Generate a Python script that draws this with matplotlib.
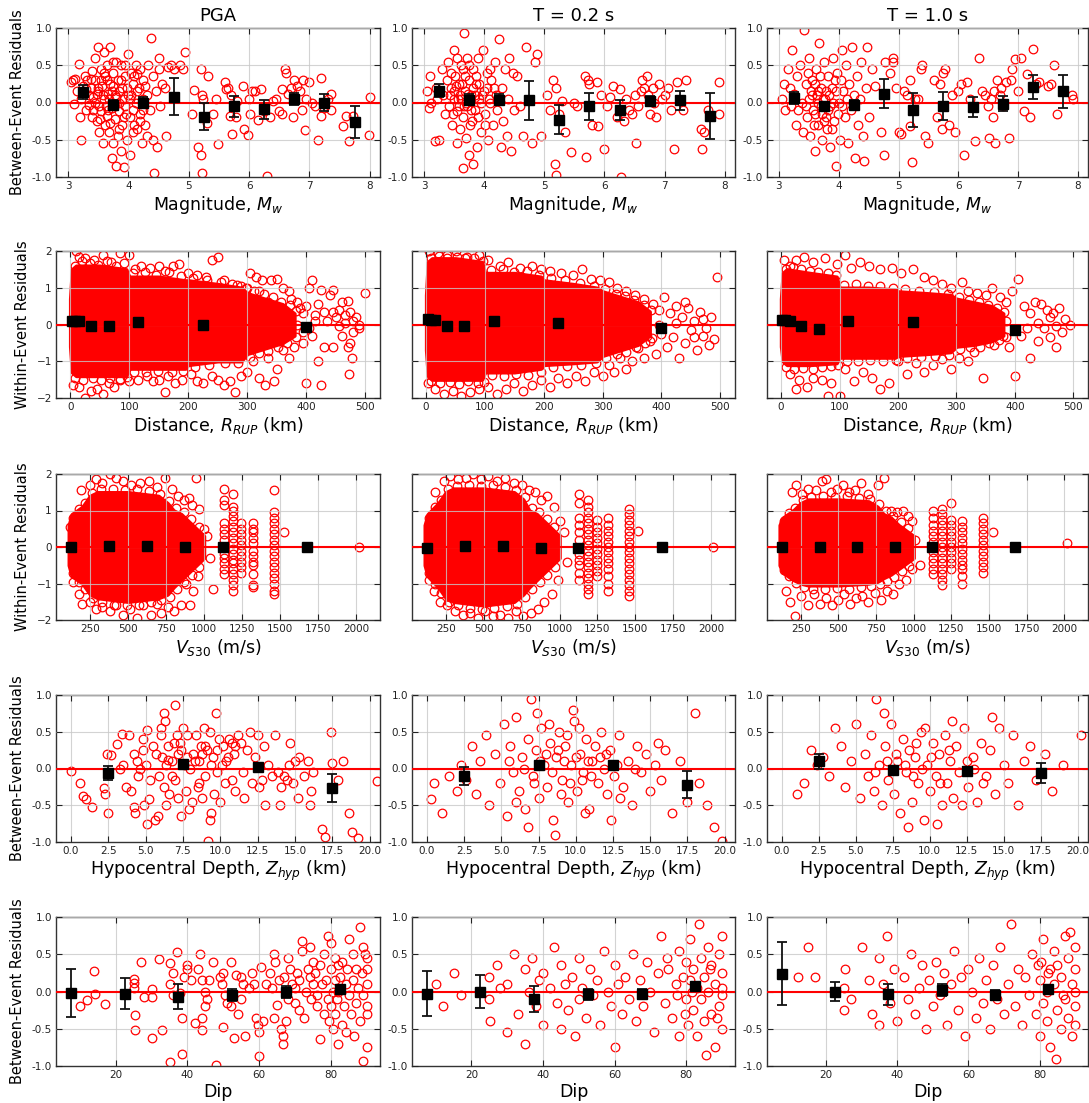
import numpy as np
import matplotlib
matplotlib.use('Agg')
import matplotlib.pyplot as plt

# ---------------- data ----------------
periods = ["PGA", "T = 0.2 s", "T = 1.0 s"]

# Row 1: between-event residuals vs magnitude
mag_pga = [(3.05,0.28),(3.08,0.3),(3.1,-0.02),(3.12,0.32),(3.15,0.15),(3.18,0.52),(3.2,-0.19),(3.22,0.05),(3.22,-0.51),(3.25,0.22),
 (3.28,0.35),(3.3,-0.1),(3.32,0.3),(3.35,0.1),(3.35,-0.03),(3.38,0.2),(3.4,-0.2),(3.42,0.08),(3.45,0.6),(3.45,0.3),(3.48,-0.25),
 (3.5,0.75),(3.5,0.15),(3.52,-0.05),(3.52,-0.4),(3.55,0.45),(3.55,-0.12),(3.57,0.22),(3.58,-0.55),(3.6,0.68),(3.6,0.05),(3.62,0.35),
 (3.62,-0.3),(3.65,0.5),(3.65,-0.18),(3.67,0.12),(3.68,-0.4),(3.7,0.75),(3.7,0.25),(3.72,-0.08),(3.72,-0.75),(3.74,0.4),(3.75,-0.55),
 (3.77,0.1),(3.78,-0.22),(3.8,0.55),(3.8,-0.85),(3.82,0.3),(3.82,-0.45),(3.85,0.0),(3.85,-0.12),(3.87,-0.65),(3.88,0.5),(3.9,0.2),
 (3.9,-0.3),(3.92,-0.87),(3.95,0.35),(3.95,-0.05),(3.98,-0.5),(4.0,0.65),(4.0,0.1),(4.02,-0.2),(4.03,-0.7),(4.05,0.4),(4.07,-0.1),
 (4.08,0.25),(4.1,-0.3),(4.12,0.5),(4.13,0.0),(4.15,-0.35),(4.18,0.2),(4.2,-0.15),(4.2,0.45),(4.22,-0.55),(4.25,0.3),(4.27,-0.3),
 (4.3,0.1),(4.3,-0.45),(4.32,0.5),(4.35,-0.1),(4.38,0.87),(4.4,0.35),(4.4,-0.5),(4.42,-0.95),(4.45,0.15),(4.47,-0.6),(4.5,0.6),
 (4.5,0.45),(4.52,-0.05),(4.55,0.25),(4.6,0.2),(4.62,-0.45),(3.45,0.0),(3.5,0.2),(3.58,0.1),(3.63,-0.05),(3.68,0.05),(3.72,0.15),
 (3.78,-0.02),(3.85,0.15),(3.92,0.05),(3.96,-0.15),(4.05,0.1),(4.1,0.35),(3.55,0.3),(3.65,0.3),(3.75,0.55),(3.4,0.42),(3.3,0.18),
 (3.95,0.5),(4.15,0.38),(4.25,-0.1),(3.48,0.12),(3.53,-0.22),(3.6,0.4),(3.66,-0.1),(3.7,-0.28),(3.74,0.22),(3.8,0.08),(3.84,-0.35),
 (3.88,0.3),(3.93,-0.2),(3.98,0.2),(4.03,0.05),(4.08,-0.4),(4.14,0.15),(4.19,-0.25),(4.24,0.05),(4.28,0.22),(3.42,-0.1),(3.38,0.32),
 (4.65,0.48),(4.7,0.5),(4.75,0.45),(4.85,0.5),(4.9,0.45),(4.93,0.68),(5.05,-0.15),(5.08,0.17),(5.15,-0.6),(5.2,-0.7),(5.22,-0.95),
 (5.2,0.45),(5.22,0.1),(5.23,0.05),(5.3,-0.28),(5.32,0.35),(5.4,-0.15),(5.45,0.05),(5.48,-0.56),(5.6,0.28),(5.62,0.18),(5.65,0.2),
 (5.68,-0.18),(5.7,0.1),(5.72,-0.42),(5.78,-0.2),(5.8,0.02),(5.9,0.22),(5.92,-0.36),(5.98,-0.43),(6.0,0.05),(6.02,-0.15),(6.05,0.15),
 (6.1,0.15),(6.15,-0.23),(6.2,0.18),(6.25,-0.12),(6.3,-0.98),(6.35,-0.2),(6.4,0.02),(6.45,0.05),(6.5,-0.12),(6.55,-0.15),(6.55,0.18),
 (6.6,0.45),(6.62,0.4),(6.65,0.12),(6.7,0.2),(6.72,-0.2),(6.75,0.3),(6.8,0.22),(6.85,0.15),(6.88,-0.1),(6.9,0.3),(6.92,-0.37),
 (6.95,0.05),(7.0,0.28),(7.05,0.0),(7.1,-0.05),(7.15,-0.5),(7.2,0.33),(7.2,-0.18),(7.25,-0.08),(7.3,0.05),(7.35,0.12),(7.35,-0.1),
 (7.55,-0.32),(7.6,-0.18),(7.65,-0.52),(7.72,-0.18),(7.98,-0.43),(8.0,0.07)]
mag_t02 = [(3.05,0.15),(3.08,-0.08),(3.1,0.35),(3.12,0.0),(3.18,-0.52),(3.2,0.2),(3.22,0.05),(3.25,-0.5),(3.3,0.45),(3.32,0.1),
 (3.35,-0.15),(3.38,0.3),(3.4,0.55),(3.42,-0.05),(3.45,0.2),(3.47,-0.3),(3.5,0.7),(3.5,0.05),(3.52,0.35),(3.55,-0.12),(3.55,-0.55),
 (3.58,0.25),(3.6,-0.35),(3.62,0.5),(3.62,0.05),(3.65,-0.2),(3.65,-0.88),(3.67,0.93),(3.68,0.15),(3.7,-0.48),(3.72,0.6),(3.72,-0.05),
 (3.75,0.3),(3.75,-0.7),(3.78,0.1),(3.8,-0.25),(3.82,0.45),(3.82,-0.82),(3.85,-0.1),(3.87,0.25),(3.88,-0.6),(3.9,0.6),(3.92,0.05),
 (3.95,-0.4),(3.98,0.7),(4.0,0.15),(4.02,-0.15),(4.05,0.4),(4.07,-0.5),(4.1,0.0),(4.12,0.3),(4.15,-0.3),(4.18,0.55),(4.2,0.1),
 (4.22,-0.1),(4.25,0.85),(4.28,-0.6),(4.3,0.2),(4.32,-0.25),(4.35,0.45),(4.38,-0.45),(4.4,0.05),(4.42,0.6),(4.45,-0.65),(4.48,0.4),
 (4.5,-0.1),(4.55,0.35),(4.6,-0.05),(3.5,0.15),(3.58,-0.05),(3.6,0.1),(3.68,0.35),(3.7,0.0),(3.78,-0.1),(3.85,0.1),(3.92,0.25),
 (3.95,0.0),(4.05,0.2),(3.45,0.4),(3.65,0.45),(3.75,0.5),(3.55,0.6),(4.1,0.45),(3.48,-0.15),(3.53,0.22),(3.57,0.05),(3.63,0.25),
 (3.66,-0.05),(3.73,0.12),(3.77,-0.3),(3.81,0.2),(3.86,0.35),(3.9,-0.2),(3.97,0.1),(4.01,-0.3),(4.08,0.05),(4.16,0.2),(3.43,0.1),
 (4.7,0.75),(4.85,0.55),(4.88,0.65),(4.8,-0.55),(4.65,-0.45),(4.95,-0.45),(5.05,0.1),(5.1,-0.1),(5.15,0.3),(5.18,-0.82),(5.2,0.2),
 (5.2,-0.97),(5.25,-0.15),(5.3,0.02),(5.35,-0.4),(5.45,-0.67),(5.5,0.0),(5.55,-0.05),(5.7,-0.73),(5.72,0.3),(5.75,0.25),(5.68,0.35),
 (5.8,-0.3),(5.9,-0.32),(5.88,0.27),(5.95,0.1),(6.0,-0.62),(6.05,-0.05),(6.1,0.08),(6.15,0.22),(6.2,-0.2),(6.25,0.18),(6.28,-1.0),
 (6.32,-0.25),(6.35,0.05),(6.4,-0.1),(6.45,-0.15),(6.5,0.1),(6.52,-0.55),(6.55,-0.05),(6.6,0.15),(6.62,0.3),(6.65,0.2),(6.7,0.35),
 (6.72,0.1),(6.75,-0.15),(6.8,0.2),(6.82,0.0),(6.85,-0.2),(6.9,0.25),(6.95,0.05),(7.0,0.1),(7.05,0.2),(7.1,-0.1),(7.15,-0.62),
 (7.2,0.28),(7.25,0.02),(7.3,-0.1),(7.35,0.3),(7.6,-0.35),(7.62,-0.62),(7.65,-0.4),(7.72,-0.1),(7.9,0.28),(7.9,-0.15)]
mag_t10 = [(3.05,0.05),(3.08,0.25),(3.1,-0.1),(3.15,0.45),(3.18,0.2),(3.2,-0.05),(3.22,0.7),(3.25,0.12),(3.28,-0.3),(3.3,0.35),
 (3.32,-0.1),(3.35,0.5),(3.38,0.0),(3.4,-0.4),(3.42,0.97),(3.45,0.25),(3.47,-0.2),(3.5,0.6),(3.5,0.05),(3.52,-0.45),(3.55,0.3),
 (3.57,-0.1),(3.6,-0.65),(3.62,0.45),(3.63,0.1),(3.65,-0.3),(3.67,0.8),(3.7,0.2),(3.72,-0.15),(3.72,-0.5),(3.75,0.55),(3.77,0.05),
 (3.8,-0.35),(3.82,0.35),(3.85,-0.05),(3.85,-0.6),(3.88,0.2),(3.9,0.6),(3.92,-0.25),(3.95,-0.85),(3.97,0.4),(4.0,0.0),(4.02,-0.5),
 (4.05,0.7),(4.07,0.15),(4.1,-0.2),(4.12,0.5),(4.15,-0.55),(4.18,0.25),(4.2,-0.1),(4.22,0.75),(4.25,0.1),(4.28,-0.75),(4.3,0.35),
 (4.32,-0.3),(4.35,0.05),(4.38,0.55),(4.4,-0.45),(4.42,-0.78),(4.45,0.2),(4.48,0.75),(4.5,-0.2),(3.55,0.1),(3.6,0.25),(3.65,0.0),
 (3.7,-0.05),(3.78,0.15),(3.82,-0.1),(3.9,0.0),(3.95,0.15),(4.05,-0.05),(3.48,0.4),(3.58,-0.3),(3.68,0.35),(3.75,-0.25),(3.88,-0.35),
 (3.46,-0.05),(3.53,0.15),(3.61,-0.15),(3.66,0.15),(3.73,0.05),(3.79,-0.2),(3.84,0.1),(3.93,0.3),(3.99,-0.15),(4.04,0.3),(4.13,0.05),
 (4.55,0.45),(4.6,0.22),(4.7,-0.4),(4.75,-0.7),(4.78,0.55),(4.85,0.4),(4.9,0.6),(4.9,0.55),(4.95,0.2),(5.0,-0.4),(5.05,-0.42),
 (5.1,0.15),(5.15,0.1),(5.2,-0.32),(5.2,0.3),(5.22,-0.8),(5.28,0.05),(5.32,0.05),(5.38,0.45),(5.4,0.5),(5.45,-0.45),(5.5,-0.55),
 (5.6,0.3),(5.65,-0.2),(5.7,0.25),(5.72,-0.35),(5.75,0.4),(5.78,0.45),(5.85,-0.3),(5.9,0.1),(5.95,-0.4),(6.0,0.15),(6.05,0.25),
 (6.1,-0.7),(6.15,0.28),(6.2,0.05),(6.25,-0.05),(6.28,-0.52),(6.35,0.6),(6.4,0.15),(6.45,0.1),(6.5,-0.05),(6.52,-0.48),(6.55,0.05),
 (6.58,-0.2),(6.6,0.15),(6.62,-0.55),(6.65,0.3),(6.7,0.1),(6.72,0.2),(6.75,-0.05),(6.8,0.28),(6.85,-0.48),(6.88,0.3),(6.9,0.45),
 (6.95,0.58),(7.0,0.15),(7.05,0.6),(7.1,-0.12),(7.15,0.38),(7.2,-0.2),(7.25,0.72),(7.3,0.25),(7.35,0.28),(7.5,0.22),(7.55,0.25),
 (7.6,0.5),(7.65,-0.15),(7.9,0.1),(7.92,0.05)]
mag_bins = [3.25, 3.75, 4.25, 4.75, 5.25, 5.75, 6.25, 6.75, 7.25, 7.75]
mag_mean = {"PGA": [0.14, -0.03, 0.0, 0.08, -0.19, -0.05, -0.09, 0.05, 0.0, -0.26],
            "T02": [0.16, 0.04, 0.04, 0.03, -0.23, -0.05, -0.10, 0.02, 0.03, -0.18],
            "T10": [0.06, -0.045, -0.03, 0.12, -0.10, -0.05, -0.06, -0.015, 0.21, 0.15]}
mag_err = {"PGA": [0.09, 0.07, 0.08, 0.25, 0.18, 0.14, 0.13, 0.08, 0.12, 0.21],
           "T02": [0.09, 0.07, 0.08, 0.26, 0.19, 0.18, 0.14, 0.07, 0.13, 0.31],
           "T10": [0.085, 0.05, 0.07, 0.19, 0.23, 0.19, 0.14, 0.10, 0.16, 0.22]}

# Row 2: within-event residuals vs distance (dense core as envelope + outlying points)
dist_env_x = [0, 3, 10, 50, 95, 100, 150, 195, 200, 250, 290, 300, 330, 360, 380]
dist_env = {"PGA": ([0.7, 1.5, 1.6, 1.6, 1.5, 1.3, 1.3, 1.2, 1.2, 1.1, 1.0, 0.85, 0.7, 0.55, 0.3],
                    [-0.6, -1.3, -1.4, -1.4, -1.4, -1.2, -1.2, -1.2, -1.1, -1.0, -1.0, -0.8, -0.65, -0.5, -0.3]),
            "T02": ([0.8, 1.7, 1.8, 1.8, 1.7, 1.4, 1.4, 1.3, 1.2, 1.1, 1.0, 0.9, 0.75, 0.6, 0.35],
                    [-0.7, -1.4, -1.5, -1.5, -1.5, -1.3, -1.3, -1.2, -1.1, -1.05, -1.0, -0.85, -0.7, -0.55, -0.3]),
            "T10": ([0.7, 1.4, 1.5, 1.4, 1.3, 1.0, 1.0, 0.95, 0.9, 0.85, 0.8, 0.7, 0.6, 0.5, 0.3],
                    [-0.6, -1.0, -1.1, -1.1, -1.05, -0.9, -0.9, -0.9, -0.85, -0.8, -0.75, -0.6, -0.55, -0.45, -0.3])}
dist_pts_pga = [(10,2.0),(15,1.85),(25,1.8),(40,1.75),(55,1.9),(70,1.7),(85,1.95),(100,1.9),(110,1.5),(120,1.6),(135,1.55),(150,1.6),
 (160,1.45),(175,1.6),(185,1.65),(200,1.4),(215,1.35),(230,1.3),(240,1.75),(250,1.85),(260,1.2),(275,1.1),(290,1.05),(300,1.0),
 (305,1.4),(315,1.3),(325,1.2),(340,1.2),(350,1.25),(360,1.0),(370,0.9),(375,0.7),(385,0.6),(390,0.45),(395,0.3),(400,0.5),
 (405,1.0),(410,1.2),(415,0.25),(420,0.55),(425,0.95),(430,0.35),(440,0.8),(445,0.95),(450,0.2),(455,0.4),(460,0.6),(465,0.05),
 (470,0.65),(475,0.35),(480,0.1),(485,0.2),(490,-0.1),(500,0.85),(470,-0.6),(475,-0.5),(478,-0.9),(472,-1.35),(460,-0.3),
 (455,-0.05),(445,-0.6),(430,-0.6),(420,-1.0),(425,-1.65),(400,-1.6),(410,-0.3),(395,-0.5),(380,-0.6),(370,-0.9),(360,-0.7),
 (350,-1.2),(345,-1.55),(335,-0.9),(330,-1.65),(320,-1.45),(310,-1.0),(300,-1.3),(290,-1.4),(280,-1.85),(270,-1.55),(260,-1.65),
 (250,-1.5),(240,-1.4),(225,-1.6),(215,-1.55),(205,-1.35),(190,-1.5),(178,-1.6),(165,-1.4),(160,-1.85),(150,-1.5),(140,-1.55),
 (130,-1.4),(115,-1.5),(100,-1.55),(85,-1.5),(75,-1.7),(65,-1.6),(55,-1.9),(45,-1.75),(35,-1.8),(25,-2.0),(15,-1.7),(5,-1.65),
 (320,0.9),(335,0.6),(345,0.4),(355,0.3),(365,-0.2),(340,-0.3),(355,-0.45),(385,0.0),(395,-0.2),(405,-0.1),(415,0.1),(435,0.1),
 (445,0.35),(465,0.25),(480,-0.2),(490,0.0),
 (8,1.6),(20,1.72),(33,1.66),(48,1.62),(62,1.72),(78,1.6),(92,1.66),(106,1.4),(126,1.42),(146,1.36),(168,1.42),(188,1.32),
 (208,1.27),(232,1.22),(256,1.16),(282,1.08),(298,0.98),(312,0.9),(328,0.82),(344,0.76),(358,0.62),(372,0.52),(382,0.38),
 (8,-1.45),(22,-1.5),(38,-1.46),(52,-1.52),(68,-1.45),(84,-1.48),(96,-1.44),(108,-1.28),(128,-1.3),(148,-1.26),(172,-1.3),
 (192,-1.26),(212,-1.15),(236,-1.1),(262,-1.05),(284,-1.05),(304,-0.88),(320,-0.78),(336,-0.72),(352,-0.6),(368,-0.5),(382,-0.35)]
dist_pts_t02 = [(5,2.0),(20,1.95),(35,1.9),(50,2.0),(70,1.85),(90,1.9),(105,1.75),(125,1.6),(140,1.7),(160,1.55),(180,1.6),
 (195,1.5),(210,1.45),(230,1.4),(250,1.35),(265,1.5),(280,1.25),(295,1.2),(310,1.15),(325,1.0),(340,0.9),(355,0.8),(370,0.7),
 (385,0.55),(395,0.4),(405,0.75),(415,0.3),(425,0.5),(435,0.2),(445,0.45),(455,0.1),(465,0.35),(475,-0.1),(485,0.2),(495,1.3),
 (490,-0.4),(480,-0.55),(470,-0.3),(460,-0.7),(450,-0.15),(440,-0.5),(430,-0.9),(420,-0.35),(410,-0.6),(400,-0.25),(390,-0.8),
 (380,-0.45),(370,-0.9),(360,-0.65),(350,-1.0),(340,-1.2),(330,-0.9),(320,-1.3),(310,-1.1),(300,-1.4),(285,-1.3),(270,-1.55),
 (255,-1.4),(240,-1.6),(225,-1.45),(210,-1.7),(195,-1.5),(180,-1.65),(165,-1.8),(150,-1.6),(135,-1.75),(120,-1.9),(105,-1.7),
 (90,-1.75),(75,-1.85),(60,-1.95),(45,-1.8),(30,-1.9),(15,-1.75),(3,-1.6),(345,0.45),(365,0.2),(375,-0.3),(395,0.0),(425,0.05),
 (455,-0.35),(470,0.15),(440,0.6),
 (8,1.8),(22,1.86),(36,1.8),(52,1.84),(66,1.8),(82,1.82),(96,1.74),(110,1.48),(130,1.5),(150,1.44),(172,1.46),(192,1.36),
 (212,1.26),(236,1.2),(262,1.12),(286,1.04),(304,0.96),(322,0.84),(338,0.78),(354,0.66),(370,0.52),(382,0.4),
 (8,-1.55),(24,-1.6),(40,-1.56),(56,-1.62),(72,-1.55),(88,-1.58),(98,-1.56),(112,-1.38),(132,-1.4),(152,-1.36),(174,-1.38),
 (196,-1.28),(216,-1.16),(240,-1.14),(264,-1.1),(288,-1.06),(306,-0.92),(324,-0.8),(340,-0.74),(356,-0.62),(372,-0.5),(384,-0.36)]
dist_pts_t10 = [(5,1.75),(15,1.6),(25,1.75),(40,1.85),(55,1.7),(75,1.8),(95,1.65),(110,1.9),(120,1.55),(135,1.7),(150,1.6),
 (170,1.5),(190,1.55),(205,1.4),(225,1.5),(245,1.3),(260,1.2),(275,1.1),(290,1.0),(310,1.15),(320,0.9),(335,0.85),(350,0.8),
 (360,1.0),(375,0.75),(385,0.6),(395,0.9),(405,1.25),(415,0.5),(425,0.3),(435,0.6),(445,0.55),(455,0.4),(465,0.3),(475,0.45),
 (485,0.15),(495,0.0),(480,-0.2),(470,-0.6),(460,-0.35),(450,-0.1),(440,-0.45),(425,-0.9),(410,-0.3),(400,-1.4),(390,-0.6),
 (380,-0.3),(365,-0.55),(350,-0.4),(345,-1.45),(330,-0.75),(320,-1.0),(305,-0.9),(290,-1.2),(275,-0.95),(260,-1.1),(245,-1.3),
 (230,-1.05),(215,-1.35),(200,-1.0),(185,-1.6),(170,-1.75),(155,-1.45),(140,-1.3),(125,-1.55),(110,-1.2),(100,-1.95),(85,-1.6),
 (70,-1.5),(55,-1.45),(45,-1.7),(30,-1.5),(25,-1.75),(15,-1.35),(80,-1.95),(460,0.2),(440,0.05),(420,-0.1),(385,0.1),(470,-0.05),
 (8,1.5),(20,1.56),(34,1.5),(50,1.46),(64,1.42),(80,1.4),(94,1.34),(108,1.08),(128,1.1),(148,1.04),(170,1.06),(192,1.0),
 (212,0.96),(236,0.92),(262,0.88),(286,0.84),(304,0.76),(322,0.66),(338,0.62),(354,0.54),(370,0.44),(382,0.34),
 (8,-1.15),(22,-1.2),(38,-1.18),(54,-1.22),(70,-1.16),(86,-1.14),(98,-1.1),(112,-0.98),(132,-1.0),(152,-0.96),(174,-0.98),
 (196,-0.96),(216,-0.92),(240,-0.88),(264,-0.86),(288,-0.82),(306,-0.68),(324,-0.62),(340,-0.6),(356,-0.5),(372,-0.42),(384,-0.34)]
dist_bins = [2.5, 7.5, 15, 35, 65, 115, 225, 400]
dist_mean = {"PGA": [0.10, 0.10, 0.10, -0.05, -0.05, 0.08, 0.0, -0.08],
             "T02": [0.15, 0.13, 0.12, -0.05, -0.05, 0.10, 0.05, -0.10],
             "T10": [0.13, 0.12, 0.10, -0.03, -0.12, 0.10, 0.08, -0.15]}
dist_err = {"PGA": [0.04, 0.04, 0.04, 0.05, 0.05, 0.05, 0.07, 0.04],
            "T02": [0.04, 0.04, 0.04, 0.05, 0.05, 0.05, 0.07, 0.04],
            "T10": [0.04, 0.04, 0.04, 0.05, 0.05, 0.05, 0.07, 0.04]}

# Row 3: within-event residuals vs Vs30
vs_env_x = [110, 130, 200, 250, 300, 500, 700, 760, 800, 850, 900, 950, 1000]
vs_env = {"PGA": ([0.6, 0.9, 1.1, 1.4, 1.5, 1.5, 1.4, 1.2, 1.0, 0.9, 0.7, 0.5, 0.3],
                  [-0.5, -0.8, -1.0, -1.3, -1.4, -1.5, -1.4, -1.3, -1.1, -0.9, -0.7, -0.5, -0.3]),
          "T02": ([0.6, 0.9, 1.2, 1.5, 1.6, 1.6, 1.5, 1.3, 1.0, 0.9, 0.7, 0.5, 0.3],
                  [-0.5, -0.8, -1.1, -1.4, -1.5, -1.6, -1.5, -1.3, -1.1, -0.9, -0.7, -0.5, -0.3]),
          "T10": ([0.6, 0.8, 1.0, 1.2, 1.3, 1.3, 1.25, 1.1, 0.9, 0.8, 0.6, 0.45, 0.3],
                  [-0.5, -0.7, -0.9, -1.0, -1.05, -1.05, -1.0, -0.95, -0.85, -0.75, -0.6, -0.45, -0.3])}
vs_pts_pga = [(190,1.55),(250,1.7),(290,1.85),(330,1.75),(380,2.0),(420,1.9),(470,1.8),(520,1.7),(580,1.75),(640,1.8),(690,1.65),
 (740,1.9),(790,1.6),(830,1.4),(870,1.3),(900,1.35),(920,1.15),(950,1.9),(970,1.05),(1000,0.5),(1020,0.3),(1040,-0.3),(1060,-1.15),
 (960,-0.8),(930,-1.2),(910,-1.6),(880,-1.0),(850,-1.6),(800,-1.75),(760,-1.65),(720,-1.8),(690,-1.55),(650,-1.85),(600,-1.6),
 (560,-1.95),(510,-1.7),(470,-1.85),(420,-1.6),(380,-1.75),(330,-1.65),(290,-1.7),(250,-1.5),(200,-1.55),(180,-1.3),(140,-0.95),
 (120,0.55),(1525,0.4),(2020,0.0),
 (140,0.8),(175,1.05),(215,1.2),(265,1.48),(320,1.58),(400,1.6),(480,1.56),(560,1.6),(640,1.54),(710,1.46),(770,1.26),(815,1.08),
 (865,0.96),(915,0.78),(965,0.56),(140,-0.7),(175,-0.95),(220,-1.15),(270,-1.4),(330,-1.5),(410,-1.58),(490,-1.6),(570,-1.58),
 (650,-1.52),(720,-1.46),(775,-1.36),(820,-1.16),(870,-0.96),(920,-0.76),(970,-0.56)]
vs_pts_t02 = [(180,1.5),(240,1.8),(280,1.95),(330,1.85),(380,1.9),(430,2.0),(480,1.85),(530,1.95),(590,1.8),(640,1.9),(700,1.75),
 (750,1.7),(800,1.55),(840,1.5),(880,1.3),(920,1.4),(960,1.1),(1000,0.7),(1030,0.4),(1050,-0.4),(990,-0.9),(950,-1.3),(900,-1.5),
 (860,-1.7),(810,-1.8),(760,-1.9),(710,-1.75),(660,-1.95),(610,-1.85),(560,-1.9),(510,-1.75),(460,-1.95),(410,-1.8),(360,-1.85),
 (310,-1.75),(260,-1.6),(210,-1.5),(170,-1.2),(135,-0.9),(1520,0.45),(2010,0.0),
 (140,0.8),(175,1.1),(215,1.3),(265,1.58),(320,1.68),(400,1.7),(480,1.66),(560,1.7),(640,1.64),(710,1.56),(770,1.36),(815,1.08),
 (865,0.96),(915,0.78),(965,0.56),(140,-0.7),(175,-1.0),(220,-1.25),(270,-1.5),(330,-1.6),(410,-1.68),(490,-1.7),(570,-1.68),
 (650,-1.62),(720,-1.56),(775,-1.38),(820,-1.16),(870,-0.96),(920,-0.76),(970,-0.56)]
vs_pts_t10 = [(190,1.5),(220,1.7),(260,1.45),(300,1.6),(350,1.55),(390,1.8),(420,1.85),(450,1.5),(490,1.6),(530,1.7),(570,1.5),
 (610,1.55),(650,1.75),(700,1.45),(760,1.7),(800,1.9),(850,1.0),(890,0.95),(930,1.0),(960,0.85),(990,0.7),(1010,0.2),(1040,-0.5),
 (990,-0.6),(950,-0.9),(900,-1.0),(860,-1.3),(820,-1.2),(780,-1.45),(740,-1.25),(700,-1.5),(660,-1.35),(620,-1.4),(580,-1.55),
 (540,-1.3),(500,-1.45),(460,-1.6),(420,-1.4),(380,-1.55),(340,-1.3),(300,-1.6),(250,-1.35),(210,-1.9),(180,-1.5),(150,-1.2),
 (1530,0.4),(2020,0.1),
 (140,0.72),(175,0.92),(215,1.08),(265,1.28),(320,1.38),(400,1.4),(480,1.36),(560,1.4),(640,1.34),(710,1.32),(770,1.18),(815,0.98),
 (865,0.86),(915,0.68),(965,0.52),(140,-0.62),(175,-0.8),(220,-0.98),(270,-1.1),(330,-1.14),(410,-1.14),(490,-1.12),(570,-1.14),
 (650,-1.1),(720,-1.08),(775,-1.02),(820,-0.92),(870,-0.82),(920,-0.66),(970,-0.52)]
vs_stripe_x = [1130, 1190, 1245, 1320, 1460]
vs_stripe_y = {"PGA": [[-0.75, -0.6, -0.45, -0.3, -0.2, 0.2, 0.35, 0.5, 0.65, 1.15, 1.3, 1.6],
                       [-1.2, -1.05, -0.9, -0.75, -0.6, -0.45, -0.35, -0.2, -0.05, 0.1, 0.25, 0.4, 0.55, 0.7, 0.85, 1.0, 1.1, 1.45],
                       [-0.7, -0.55, -0.4, -0.25, -0.1, 0.05, 0.2, 0.35, 0.5, 0.65],
                       [-1.1, -1.05, -0.75, -0.5, -0.4, -0.25, -0.1, 0.1, 0.25, 0.4, 0.5, 0.65],
                       [-1.3, -1.2, -1.0, -0.85, -0.7, -0.55, -0.4, -0.25, -0.1, 0.05, 0.2, 0.35, 0.5, 0.65, 0.8, 0.95, 1.55]],
               "T02": [[-0.9, -0.7, -0.5, -0.35, -0.2, 0.2, 0.4, 0.6, 0.8, 1.2, 1.45],
                       [-1.3, -1.15, -1.0, -0.85, -0.7, -0.55, -0.4, -0.25, -0.1, 0.05, 0.2, 0.35, 0.5, 0.65, 0.8, 0.95, 1.1, 1.3],
                       [-0.8, -0.65, -0.5, -0.35, -0.2, -0.05, 0.1, 0.25, 0.4, 0.55, 0.75],
                       [-1.2, -1.0, -0.8, -0.6, -0.45, -0.3, -0.15, 0.0, 0.15, 0.3, 0.45, 0.6, 0.8],
                       [-1.35, -1.2, -1.05, -0.9, -0.75, -0.6, -0.45, -0.3, -0.15, 0.0, 0.15, 0.3, 0.45, 0.6, 0.75, 0.9, 1.05]],
               "T10": [[-0.75, -0.6, -0.45, -0.3, -0.15, 0.15, 0.3, 0.45, 0.6, 0.8, 1.0],
                       [-1.05, -0.9, -0.75, -0.6, -0.45, -0.3, -0.15, 0.0, 0.15, 0.3, 0.45, 0.6, 0.75, 0.9, 1.05],
                       [-0.6, -0.45, -0.3, -0.15, 0.0, 0.15, 0.3, 0.45, 0.6, 0.75, 1.2],
                       [-1.0, -0.8, -0.6, -0.5, -0.35, -0.2, -0.05, 0.1, 0.25, 0.4, 0.55, 0.7],
                       [-0.7, -0.55, -0.4, -0.25, -0.1, 0.05, 0.2, 0.35, 0.5, 0.65, 0.8]]}
vs_bins = [125, 375, 625, 875, 1125, 1675]
vs_mean = {"PGA": [0.0, 0.02, 0.02, 0.0, -0.01, 0.0],
           "T02": [-0.03, 0.03, 0.03, -0.02, -0.03, 0.0],
           "T10": [0.0, 0.0, 0.0, 0.0, 0.0, 0.0]}
vs_err = {"PGA": [0.06, 0.06, 0.06, 0.06, 0.06, 0.05],
          "T02": [0.06, 0.06, 0.06, 0.06, 0.06, 0.05],
          "T10": [0.06, 0.06, 0.06, 0.06, 0.06, 0.05]}

# Row 4: between-event residuals vs hypocentral depth
dep_pga = [(0.0,-0.04),(0.6,-0.2),(0.8,-0.37),(1.0,-0.42),(1.4,-0.53),(2.2,-0.26),(2.3,-0.35),(2.4,0.2),(2.5,-0.6),(2.7,0.18),
 (3.1,0.33),(3.3,0.0),(3.4,0.47),(3.5,0.05),(3.7,-0.25),(3.9,0.45),(4.0,-0.3),(4.2,0.2),(4.2,-0.52),(4.3,-0.6),(4.4,0.1),(4.5,-0.1),
 (4.6,0.0),(4.8,0.4),(4.8,0.25),(4.9,-0.5),(5.0,0.05),(5.1,0.53),(5.1,-0.75),(5.2,-0.42),(5.3,-0.15),(5.5,0.3),(5.6,-0.7),(5.7,0.2),
 (5.8,-0.65),(5.9,-0.1),(6.0,0.55),(6.0,0.45),(6.1,0.15),(6.2,0.75),(6.2,-0.25),(6.3,0.65),(6.4,-0.5),(6.4,0.05),(6.5,0.3),
 (6.6,-0.35),(6.8,0.1),(6.9,0.35),(7.0,0.87),(7.0,-0.15),(7.1,0.45),(7.2,-0.4),(7.3,0.35),(7.4,-0.65),(7.5,0.55),(7.6,0.05),
 (7.7,-0.3),(7.8,0.45),(7.9,-0.55),(8.0,0.0),(8.1,-0.45),(8.2,0.2),(8.4,0.45),(8.5,-0.25),(8.6,0.1),(8.7,0.3),(8.8,-0.4),(8.9,0.55),
 (9.0,-0.1),(9.1,0.25),(9.2,-0.98),(9.3,-0.7),(9.3,0.5),(9.4,-0.6),(9.5,0.15),(9.6,-0.35),(9.7,0.75),(9.8,-0.05),(9.9,0.4),
 (10.0,-0.45),(10.1,0.05),(10.2,0.3),(10.3,-0.2),(10.5,0.15),(10.6,0.4),(10.8,-0.15),(10.9,0.2),(11.0,-0.3),(11.2,0.45),(11.4,0.35),
 (11.5,-0.05),(11.6,-0.4),(11.8,0.25),(12.0,0.5),(12.1,-0.2),(12.3,0.15),(12.5,0.45),(12.6,-0.25),(12.8,-0.15),(12.9,0.3),
 (13.0,-0.5),(13.2,0.05),(13.5,-0.1),(13.7,0.45),(13.9,-0.05),(14.0,-0.5),(14.1,-0.25),(14.3,-0.1),(14.5,-0.15),(14.6,0.05),
 (14.7,0.35),(14.9,-0.2),(15.0,0.1),(15.2,-0.4),(15.3,0.15),(15.6,-0.1),(15.9,0.1),(16.0,-0.5),(16.1,-0.3),(16.2,-0.05),(16.8,-0.82),
 (17.0,-0.93),(17.4,0.5),(17.5,0.07),(17.9,-0.15),(18.2,0.1),(18.6,-0.6),(18.8,-0.87),(19.2,-0.95),(20.5,-0.17),(6.5,0.12),(7.2,0.2),
 (8.3,0.1),(8.8,0.2),(9.0,0.3),(9.4,0.05),(10.4,0.1),(11.0,0.3),(7.8,0.15),(8.6,-0.2),(9.8,0.25),(10.8,0.35),(6.8,-0.1),(7.4,0.25)]
dep_t02 = [(0.3,-0.42),(0.5,-0.2),(1.0,-0.6),(1.5,-0.1),(2.0,-0.3),(2.3,0.05),(2.6,-0.15),(3.0,0.3),(3.3,-0.35),(3.6,0.1),(4.0,0.45),
 (4.2,-0.5),(4.6,0.2),(4.9,-0.2),(5.2,0.6),(5.4,-0.65),(5.6,0.3),(5.8,-0.05),(6.0,0.7),(6.2,-0.3),(6.4,0.15),(6.6,-0.55),(6.8,0.4),
 (7.0,0.95),(7.1,-0.1),(7.3,0.25),(7.5,-0.4),(7.7,0.55),(7.9,0.05),(8.1,-0.25),(8.3,0.35),(8.5,-0.7),(8.7,0.15),(8.9,0.5),(9.1,-0.15),
 (9.3,0.3),(9.5,-0.45),(9.7,0.05),(9.9,0.65),(10.1,-0.3),(10.3,0.2),(10.5,-0.05),(10.7,0.4),(10.9,-0.55),(11.1,0.1),(11.3,0.3),
 (11.5,-0.2),(11.7,0.5),(11.9,0.0),(12.1,-0.35),(12.3,0.25),(12.6,-0.1),(12.9,0.45),(13.2,-0.25),(13.5,0.1),(13.8,-0.5),(14.1,0.3),
 (14.4,-0.05),(14.7,0.2),(15.0,-0.3),(15.3,0.05),(15.7,-0.15),(16.0,0.25),(16.5,-0.6),(17.0,0.1),(17.5,-0.45),(18.0,0.75),(18.3,-0.2),
 (18.8,-0.5),(19.3,-0.8),(19.8,-0.98),(7.6,0.1),(8.0,0.2),(8.4,-0.05),(8.8,0.25),(9.2,0.1),(9.6,-0.2),(10.0,0.15),(10.4,-0.15),
 (10.8,0.1),(7.2,-0.2),(6.5,0.0),(9.0,-0.35),(11.0,-0.1),(12.0,0.2),(12.8,0.05),(13.0,-0.4),(6.0,-0.45),(5.5,0.1),(8.2,0.6),
 (9.4,0.45),(10.2,0.55),(11.6,0.15),(14.0,0.0),(15.5,0.35),(6.8,-0.8),(8.6,-0.9),(10.6,-0.6),(12.4,-0.7),(7.4,0.75),(9.8,0.8)]
dep_t10 = [(1.0,-0.35),(1.5,-0.2),(2.0,0.25),(2.4,0.05),(2.8,0.15),(3.2,-0.1),(3.6,0.55),(4.0,0.3),(4.3,-0.25),(4.7,0.1),(5.0,0.6),
 (5.3,-0.4),(5.6,0.2),(5.8,-0.1),(6.0,0.45),(6.2,-0.3),(6.4,0.95),(6.6,0.05),(6.8,-0.5),(7.0,0.3),(7.2,-0.15),(7.4,0.6),(7.6,-0.35),
 (7.8,0.1),(8.0,-0.6),(8.2,0.4),(8.4,-0.05),(8.6,0.25),(8.8,-0.45),(9.0,0.15),(9.2,-0.2),(9.4,0.5),(9.6,-0.7),(9.8,0.05),(10.0,-0.3),
 (10.2,0.35),(10.4,-0.1),(10.6,0.2),(10.8,-0.5),(11.0,0.45),(11.2,-0.2),(11.4,0.1),(11.6,-0.4),(11.8,0.3),(12.0,-0.05),(12.3,0.55),
 (12.6,-0.25),(12.9,0.15),(13.2,-0.45),(13.5,0.35),(13.8,-0.1),(14.1,0.25),(14.4,-0.35),(14.7,0.55),(15.0,0.05),(15.3,-0.2),
 (15.6,0.45),(16.0,-0.5),(16.4,0.1),(16.8,0.3),(17.2,-0.15),(17.8,0.2),(18.3,-0.3),(19.0,0.05),(20.2,0.45),(7.1,0.1),(7.7,0.2),
 (8.3,0.05),(8.9,-0.1),(9.5,0.0),(10.1,0.15),(10.7,-0.2),(11.3,0.25),(6.3,-0.05),(9.1,0.35),(12.2,-0.5),(13.0,0.0),(8.5,-0.8),
 (10.5,-0.75),(14.2,0.7),(6.9,0.75),(11.5,0.65),(9.7,0.55),(12.5,0.1),(13.6,-0.2)]
dep_bins = [2.5, 7.5, 12.5, 17.5]
dep_mean = {"PGA": [-0.06, 0.06, 0.02, -0.27], "T02": [-0.10, 0.05, 0.05, -0.22], "T10": [0.10, -0.02, -0.03, -0.06]}
dep_err = {"PGA": [0.10, 0.03, 0.05, 0.19], "T02": [0.12, 0.04, 0.04, 0.18], "T10": [0.10, 0.05, 0.05, 0.14]}

# Row 5: between-event residuals vs dip
dip_pga = [(10,-0.19),(12,-0.11),(14,0.28),(14.3,-0.03),(17,-0.17),(25,0.17),(25,0.12),(25.2,0.05),(25.3,-0.32),(25.3,-0.52),(27,0.4),
 (28,-0.08),(30,-0.62),(30,0.03),(30.2,-0.08),(32,0.44),(33,-0.52),(35,-0.95),(35,0.38),(35.2,0.1),(36,-0.05),(36,0.25),(37,0.53),
 (38,-0.02),(38.5,-0.35),(38.5,-0.84),(39,0.2),(40,0.3),(40,0.35),(41,0.15),(42,-0.42),(43,0.3),(43.5,0.5),(44,0.15),(44,-0.35),
 (44,-0.52),(45,-0.2),(45,0.0),(45.5,-0.1),(46,0.15),(47,0.4),(48,-0.99),(49,0.2),(49.5,0.1),(50,-0.47),(50,0.25),(50.5,-0.05),
 (51,-0.15),(52,0.4),(52,-0.2),(53,-0.62),(53.5,0.22),(54,-0.3),(55,0.2),(55,-0.1),(55.5,0.1),(56,-0.6),(57,0.05),(58,0.25),
 (58.5,0.1),(59,-0.35),(59.5,-0.45),(60,-0.55),(60,-0.87),(60.5,0.33),(61,-0.4),(62,0.1),(63,0.25),(63.5,0.05),(64,-0.35),(64,0.5),
 (64.5,0.4),(65,-0.18),(65.5,0.15),(66,-0.5),(66.5,-0.6),(66.5,-0.7),(67,0.2),(67.5,-0.4),(68,0.45),(68,-0.1),(68.5,0.3),(69,0.1),
 (70,-0.15),(70,0.05),(70.5,0.25),(71,-0.25),(71,0.15),(72,0.68),(72,0.55),(72.5,-0.35),(73,0.0),(73.5,0.3),(74,0.6),(74,0.2),
 (74.5,-0.1),(75,0.4),(75,0.1),(75.5,0.25),(76,-0.2),(76,-0.05),(77,0.35),(77,-0.64),(77.5,0.1),(78,0.5),(78,-0.3),(78.5,0.15),
 (79,0.75),(79,-0.1),(79.5,-0.4),(80,0.65),(80,0.3),(80,-0.2),(80.5,0.0),(80.5,-0.5),(81,0.45),(81,0.15),(81,-0.3),(81.5,-0.1),
 (82,0.35),(82,-0.7),(82,0.0),(82.5,0.2),(83,-0.45),(83,0.4),(83.5,-0.2),(84,0.1),(84,-0.55),(84.5,0.3),(85,-0.05),(85,0.7),
 (85.5,-0.3),(86,0.5),(86,0.15),(86.5,-0.6),(87,0.3),(87,-0.15),(87.5,0.05),(88,0.87),(88,-0.4),(88.5,0.25),(89,-0.05),(89,0.6),
 (89,-0.93),(89.5,0.5),(90,0.1),(90,-0.2),(90,-0.75),(90,0.3),(90,0.45),(90,-0.3)]
dip_t02 = [(10,0.1),(12,-0.2),(15,0.25),(17,-0.05),(25,0.2),(25,-0.1),(25.3,-0.4),(27,0.35),(28,0.05),(30,-0.55),(30,0.1),(32,0.5),
 (33,-0.3),(35,0.3),(35,-0.7),(36,0.0),(37,0.45),(38,-0.2),(39,0.15),(40,-0.45),(40,0.25),(42,0.05),(43,0.6),(44,-0.15),(45,0.35),
 (45,-0.5),(46,0.1),(47,-0.25),(48,0.2),(49,-0.6),(50,0.45),(50,-0.1),(51,0.05),(52,-0.35),(53,0.3),(54,-0.05),(55,0.15),(56,-0.45),
 (57,0.55),(58,0.0),(59,-0.2),(60,0.35),(60,-0.75),(61,0.1),(62,-0.3),(63,0.2),(64,-0.1),(65,0.5),(66,-0.4),(67,0.15),(68,-0.2),
 (69,0.4),(70,0.0),(71,-0.55),(72,0.25),(73,0.75),(74,-0.15),(75,0.3),(76,-0.35),(77,0.1),(78,0.55),(78,-0.6),(79,0.2),(80,-0.1),
 (80,0.4),(80.5,-0.45),(81,0.15),(81,0.7),(82,-0.25),(82,0.3),(83,0.05),(83,-0.6),(84,0.45),(84,-0.1),(85,0.2),(85,-0.4),(86,0.6),
 (86,0.0),(87,-0.3),(87,0.35),(88,0.1),(88,-0.75),(89,0.5),(89,-0.2),(90,0.25),(90,-0.05),(90,-0.5),(90,0.75),(90,0.05),(83.5,0.9),
 (85.5,-0.85),(88.5,-0.35),(86.5,0.3),(79.5,-0.3),(81.5,0.0),(77.5,-0.05),(74.5,0.45)]
dip_t10 = [(12,0.2),(15,0.6),(17,0.2),(25,0.05),(25,-0.25),(25.3,0.3),(27,-0.1),(30,0.6),(32,0.15),(33,-0.3),(35,0.45),(35,-0.45),
 (36,0.1),(37,0.75),(38,-0.15),(39,0.3),(40,-0.4),(42,0.2),(43,-0.1),(44,0.5),(45,-0.3),(46,0.05),(47,0.35),(48,-0.5),(49,0.15),
 (50,-0.2),(51,0.4),(52,-0.05),(53,0.25),(54,-0.45),(55,0.1),(56,0.55),(57,-0.25),(58,0.2),(59,-0.6),(60,0.3),(61,0.0),(62,-0.35),
 (63,0.45),(64,-0.15),(65,0.15),(66,-0.5),(67,0.35),(68,-0.1),(69,0.6),(70,-0.3),(71,0.1),(72,0.9),(73,-0.2),(74,0.3),(75,-0.45),
 (76,0.2),(77,-0.05),(78,0.5),(79,-0.3),(80,0.15),(80,-0.6),(80.5,0.4),(81,-0.15),(81,0.7),(82,0.0),(82,-0.4),(83,0.3),(83,-0.75),
 (84,0.1),(84,0.55),(85,-0.25),(85,0.35),(86,-0.5),(86,0.2),(87,0.75),(87,-0.1),(88,0.45),(88,-0.35),(89,0.1),(89,-0.6),(90,0.3),
 (90,-0.2),(90,0.6),(90,0.0),(90,-0.45),(84.5,-0.9),(88.5,0.8),(82.5,0.25),(86.5,-0.05),(79.5,0.35)]
dip_bins = [7.5, 22.5, 37.5, 52.5, 67.5, 82.5]
dip_mean = {"PGA": [-0.02, -0.03, -0.07, -0.05, -0.01, 0.04], "T02": [-0.03, 0.0, -0.10, -0.04, -0.03, 0.07],
            "T10": [0.24, 0.0, -0.04, 0.02, -0.05, 0.04]}
dip_err = {"PGA": [0.32, 0.21, 0.17, 0.08, 0.08, 0.05], "T02": [0.30, 0.22, 0.17, 0.08, 0.07, 0.05],
           "T10": [0.42, 0.13, 0.14, 0.08, 0.07, 0.05]}

# ---------------- figure ----------------
W, H = 1089, 1103
fig = plt.figure(figsize=(W / 100, H / 100), dpi=100)
col_left = [56, 412, 767]
col_w = [324, 323, 321]
row_top = [28, 251, 474, 695, 917]
row_bot = [177, 398, 620, 842, 1066]

keys = ["PGA", "T02", "T10"]
RED = '#ff0000'


def make_ax(r, c):
    ax = fig.add_axes([col_left[c] / W, 1 - row_bot[r] / H, col_w[c] / W, (row_bot[r] - row_top[r]) / H])
    ax.tick_params(direction='in', top=True, right=True, labelsize=7.5, length=4, width=0.8,
                   pad=3, colors='#222222')
    for s in ax.spines.values():
        s.set_linewidth(1.0)
        s.set_color('#333333')
    ax.grid(True, color='#c8c8c8', alpha=0.8, lw=0.8)
    ax.set_axisbelow(False)
    return ax


def scatter(ax, pts):
    a = np.array(pts, dtype=float)
    ax.plot(a[:, 0], a[:, 1], 'o', ms=6.2, mfc='none', mec=RED, mew=0.9, zorder=2)


def means(ax, x, y, e):
    ax.errorbar(x, y, yerr=e, fmt='s', color='black', ms=6.5, ecolor='#111111', elinewidth=1.3,
                capsize=3.8, capthick=1.3, zorder=5)


def finish(ax, r, c, xlim, ylim, xticks, yticks, xlabel, ylabel):
    ax.axhline(0, color=RED, lw=1.5, zorder=4)
    ax.set_xlim(*xlim)
    ax.set_ylim(*ylim)
    ax.set_xticks(xticks)
    ax.set_yticks(yticks)
    ax.set_xlabel(xlabel, fontsize=12.5, labelpad=2)
    if c == 0:
        ax.set_ylabel(ylabel, fontsize=10.5, labelpad=5)
    else:
        ax.set_yticklabels([])


mag_pts = [mag_pga, mag_t02, mag_t10]
dist_pts = [dist_pts_pga, dist_pts_t02, dist_pts_t10]
vs_pts = [vs_pts_pga, vs_pts_t02, vs_pts_t10]
dep_pts = [dep_pga, dep_t02, dep_t10]
dip_pts = [dip_pga, dip_t02, dip_t10]

for c, k in enumerate(keys):
    # row 1
    ax = make_ax(0, c)
    scatter(ax, mag_pts[c])
    means(ax, mag_bins, mag_mean[k], mag_err[k])
    finish(ax, 0, c, (2.8, 8.17), (-1, 1), [3, 4, 5, 6, 7, 8], [-1.0, -0.5, 0.0, 0.5, 1.0],
           'Magnitude, $M_w$', 'Between-Event Residuals')
    ax.yaxis.set_major_formatter(matplotlib.ticker.FormatStrFormatter('%.1f'))
    ax.set_title(periods[c], fontsize=13, pad=5)

    # row 2
    ax = make_ax(1, c)
    hi, lo = dist_env[k]
    ax.fill_between(dist_env_x, lo, hi, color=RED, lw=2.5, edgecolor=RED, zorder=1)
    scatter(ax, dist_pts[c])
    means(ax, dist_bins, dist_mean[k], dist_err[k])
    finish(ax, 1, c, (-24, 525), (-2, 2), [0, 100, 200, 300, 400, 500], [-2, -1, 0, 1, 2],
           'Distance, $R_{RUP}$ (km)', 'Within-Event Residuals')

    # row 3
    ax = make_ax(2, c)
    hi, lo = vs_env[k]
    ax.fill_between(vs_env_x, lo, hi, color=RED, lw=2.5, edgecolor=RED, zorder=1)
    scatter(ax, vs_pts[c])
    for sx, sy in zip(vs_stripe_x, vs_stripe_y[k]):
        ax.plot([sx] * len(sy), sy, 'o', ms=6.2, mfc='none', mec=RED, mew=0.9, zorder=2)
    means(ax, vs_bins, vs_mean[k], vs_err[k])
    finish(ax, 2, c, (26, 2158), (-2, 2), [250, 500, 750, 1000, 1250, 1500, 1750, 2000], [-2, -1, 0, 1, 2],
           '$V_{S30}$ (m/s)', 'Within-Event Residuals')

    # row 4
    ax = make_ax(3, c)
    scatter(ax, dep_pts[c])
    means(ax, dep_bins, dep_mean[k], dep_err[k])
    finish(ax, 3, c, (-1.0, 20.7), (-1, 1), [0, 2.5, 5, 7.5, 10, 12.5, 15, 17.5, 20], [-1.0, -0.5, 0.0, 0.5, 1.0],
           'Hypocentral Depth, $Z_{hyp}$ (km)', 'Between-Event Residuals')
    ax.xaxis.set_major_formatter(matplotlib.ticker.FormatStrFormatter('%.1f'))
    ax.yaxis.set_major_formatter(matplotlib.ticker.FormatStrFormatter('%.1f'))

    # row 5
    ax = make_ax(4, c)
    scatter(ax, dip_pts[c])
    means(ax, dip_bins, dip_mean[k], dip_err[k])
    finish(ax, 4, c, (3.4, 93.6), (-1, 1), [20, 40, 60, 80], [-1.0, -0.5, 0.0, 0.5, 1.0],
           'Dip', 'Between-Event Residuals')
    ax.yaxis.set_major_formatter(matplotlib.ticker.FormatStrFormatter('%.1f'))

fig.savefig('out.png', dpi=100)
